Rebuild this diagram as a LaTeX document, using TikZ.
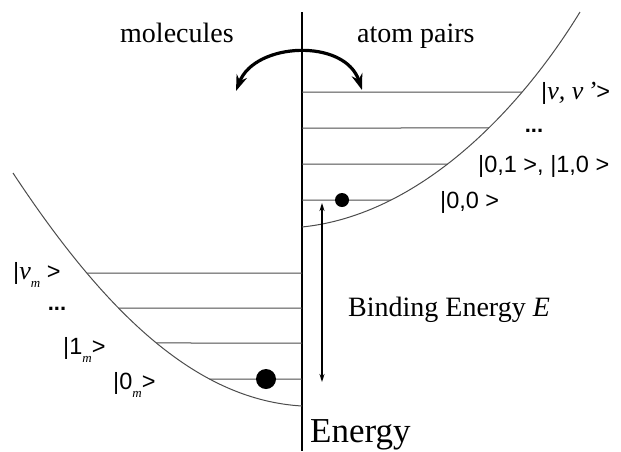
\documentclass[tikz,border=0pt]{standalone}
\usepackage{fontspec}
\setmainfont{Liberation Serif}
\newfontfamily\lsans{Liberation Sans}
\usetikzlibrary{arrows.meta,intersections}
\begin{document}
\begin{tikzpicture}[x=1pt,y=-1pt,
  lvl/.style={draw=black!70, line width=1pt},
  pot/.style={draw=black!70, line width=1pt},
  serif/.style={font=\fontsize{28}{30}\selectfont, inner sep=0pt},
  ket/.style={font=\lsans\fontsize{23.5}{26}\selectfont, inner sep=0pt},
  dots/.style={font=\lsans\bfseries\fontsize{22}{24}\selectfont, inner sep=0pt},
  dot/.style={circle, fill=black, inner sep=0pt}]
\useasboundingbox (0,0) rectangle (621,451);
% energy axis
\coordinate (axtop) at (302,12);
\coordinate (axbot) at (302,451);
\draw[line width=1.5pt] (axtop) -- (axbot);
% right potential (atom pairs)
\coordinate (rp0) at (302,227);
\coordinate (rp1) at (580,12);
\draw[pot, name path=rpot] (rp0) .. controls (420,215) and (520,110) .. (rp1);
% left potential (molecules)
\coordinate (lp0) at (13,173);
\coordinate (lp1) at (302,406);
\draw[pot, name path=lpot] (lp0) .. controls (110,320) and (200,400) .. (lp1);
% right levels
\foreach \y/\n in {92/1,128/2,164/3,200/4}{
  \coordinate (r\n a) at (302,\y);
  \path[name path=hr\n] (302,\y) -- (621,\y);
  \path[name intersections={of=rpot and hr\n, by={r\n b}}];
  \draw[lvl] (r\n a) -- (r\n b);
}
% left levels
\foreach \y/\n in {273/1,308/2,343/3,379/4}{
  \coordinate (l\n b) at (302,\y);
  \path[name path=hl\n] (0,\y) -- (302,\y);
  \path[name intersections={of=lpot and hl\n, by={l\n a}}];
  \draw[lvl] (l\n a) -- (l\n b);
}
% dots
\node[dot, minimum size=14pt] (dotr) at (342,200) {};
\node[dot, minimum size=20pt] (dotl) at (266,379) {};
% binding energy arrow
\coordinate (be1) at (322,203);
\coordinate (be2) at (322,382);
\draw[line width=1.4pt, {Stealth[length=8pt,width=5pt]}-{Stealth[length=8pt,width=5pt]}] (be1) -- (be2);
\node[serif, anchor=west] (bind) at (348,310) {Binding Energy \textit{E}};
% top labels and curved arrow
\node[serif, anchor=base west] (mol) at (120,42) {molecules};
\node[serif, anchor=base west] (atp) at (357,42) {atom pairs};
\coordinate (cl) at (236,91);
\coordinate (cr) at (362,90);
\draw[line width=3.2pt, {Stealth[length=16pt,width=11pt]}-{Stealth[length=16pt,width=11pt]}] (cl) .. controls (255,42) and (345,38) .. (cr);
% energy label
\node[font=\fontsize{35}{38}\selectfont, inner sep=0pt, anchor=base west] (en) at (310,442) {Energy};
% right kets
\node[ket, anchor=west] (k1) at (541,93) {|{\rmfamily\itshape\fontsize{26}{28}\selectfont ν, ν\,'}>};
\node[dots] (k2) at (534,131) {...};
\node[ket, anchor=west] (k3) at (478,166) {|0,1 >, |1,0 >};
\node[ket, anchor=west] (k4) at (440,202) {|0,0 >};
% left kets
\node[ket, anchor=west] (m1) at (13,275) {|{\rmfamily\itshape\fontsize{26}{28}\selectfont ν}\raisebox{-0.35em}{\rmfamily\itshape\fontsize{13}{13}\selectfont m} >};
\node[dots] (m2) at (57,309) {...};
\node[ket, anchor=west] (m3) at (63,350) {|1\raisebox{-0.35em}{\rmfamily\itshape\fontsize{13}{13}\selectfont m}>};
\node[ket, anchor=west] (m4) at (113,385) {|0\raisebox{-0.35em}{\rmfamily\itshape\fontsize{13}{13}\selectfont m}>};
\end{tikzpicture}
\end{document}
